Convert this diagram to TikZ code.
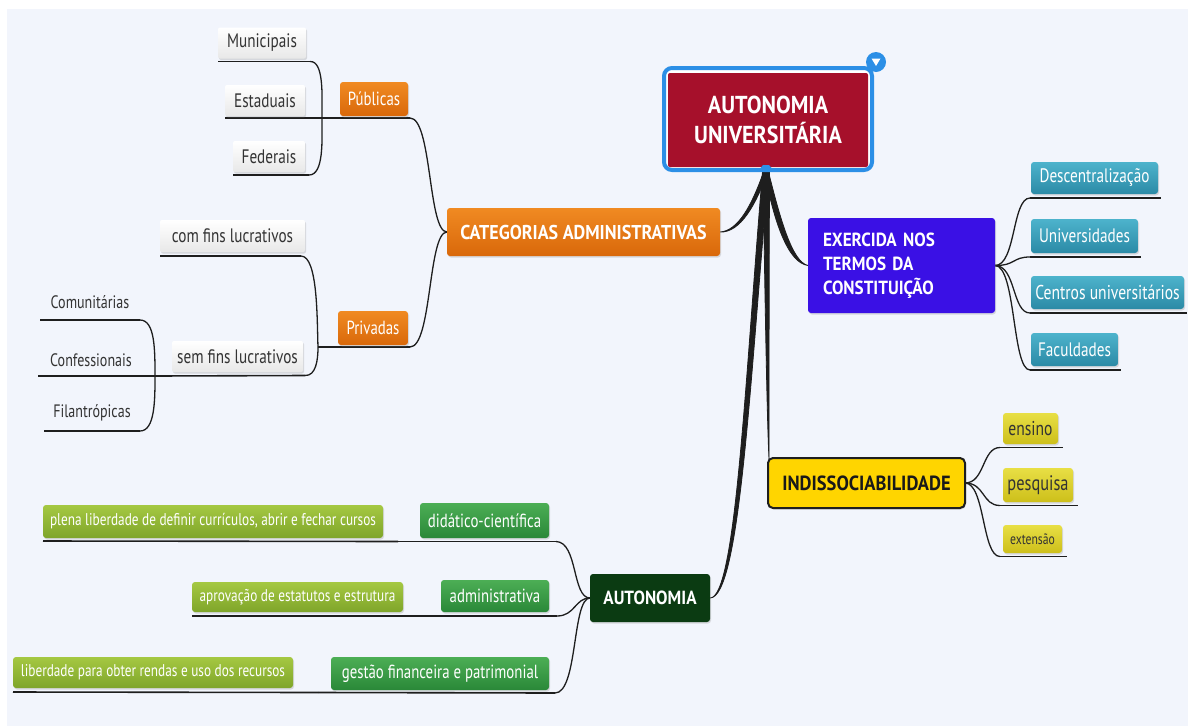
\documentclass[tikz,border=0pt]{standalone}
\usepackage{fontspec}
\setmainfont{PT Sans}[FakeStretch=0.78, BoldFeatures={FakeStretch=0.9}]
\usetikzlibrary{shadows}
\pgfdeclarelayer{bg}
\pgfdeclarelayer{lines}
\pgfsetlayers{bg,lines,main}
\definecolor{bgc}{HTML}{F2F5FC}
\definecolor{lnc}{HTML}{1E1E1E}
\definecolor{rootred}{HTML}{A6102B}
\definecolor{rootblue}{HTML}{2C8FE6}
\definecolor{orT}{HTML}{F08A22}
\definecolor{orB}{HTML}{D9680A}
\definecolor{teT}{HTML}{4DB3CC}
\definecolor{teB}{HTML}{2B8AA6}
\definecolor{yeT}{HTML}{E8DF45}
\definecolor{yeB}{HTML}{CDBF1A}
\definecolor{grT}{HTML}{4CAE55}
\definecolor{grB}{HTML}{2A8838}
\definecolor{olT}{HTML}{A5C842}
\definecolor{olB}{HTML}{7FA52A}
\definecolor{dkgreen}{HTML}{0B3B12}
\definecolor{violet}{HTML}{3A10E5}
\definecolor{gold}{HTML}{FFD500}
\definecolor{txt}{HTML}{333333}
\tikzset{
  nd/.style={inner sep=0pt, outer sep=0pt, anchor=center, align=center},
  sz/.style 2 args={minimum width=#1pt, minimum height=#2pt},
  shad/.style={drop shadow={shadow xshift=1pt, shadow yshift=-1.5pt, opacity=0.25}},
  greybox/.style={nd, shad, rounded corners=2pt, top color=white, bottom color=black!9, text=txt, font=\fontsize{19.5}{22}\selectfont},
  plainlbl/.style={nd, text=txt, font=\fontsize{18}{22}\selectfont},
  orbox/.style={nd, shad, rounded corners=3pt, top color=orT, bottom color=orB, text=white, font=\fontsize{19}{22}\selectfont},
  tebox/.style={nd, shad, rounded corners=3pt, top color=teT, bottom color=teB, text=white, font=\fontsize{19.5}{22}\selectfont},
  yebox/.style={nd, shad, rounded corners=3pt, top color=yeT, bottom color=yeB, text=txt, font=\fontsize{20}{22}\selectfont},
  grbox/.style={nd, shad, rounded corners=3pt, top color=grT, bottom color=grB, text=white, font=\fontsize{19}{22}\selectfont},
  olbox/.style={nd, shad, rounded corners=3pt, top color=olT, bottom color=olB, text=white, font=\fontsize{17}{20}\selectfont},
  ul/.style={draw=lnc, line width=1.6pt},
  cn/.style={draw=lnc, line width=1.3pt},
  trunk/.style={fill=lnc, draw=lnc, line width=0.8pt, line join=round},
}
\begin{document}
\begin{tikzpicture}[x=1pt,y=-1pt]
\begin{pgfonlayer}{bg}
\fill[white] (0,0) rectangle (1188,726);
\fill[bgc] (7,9) rectangle (1188,726);
\end{pgfonlayer}

% root frame and node
\draw[rootblue, fill=white, line width=4pt, rounded corners=8pt] (664,68) rectangle (872,170);
\node[nd, sz={200}{94}, fill=rootred, rounded corners=2pt, text=white,
      font=\bfseries\fontsize{24.5}{30}\selectfont] (root) at (768,120) {AUTONOMIA\\UNIVERSITÁRIA};
\fill[rootblue] (876,62) circle (10);
\fill[white] (871.5,58.5) -- (880.5,58.5) -- (876,66) -- cycle;
\fill[rootblue] (758,171) -- (763,165) -- (769,165) -- (774,171) -- cycle;
\coordinate (rb) at (766,172);

% categorias
\node[orbox, sz={273}{48}, font=\bfseries\fontsize{20}{22}\selectfont] (cat) at (583.5,232) {CATEGORIAS ADMINISTRATIVAS};
\node[orbox, sz={68}{34}] (pub) at (374,99) {Públicas};
\node[orbox, sz={70}{34}] (priv) at (373,328) {Privadas};
\node[greybox, sz={88}{31}] (mun) at (262,43) {Municipais};
\node[greybox, sz={80}{31}] (est) at (265,100.5) {Estaduais};
\node[greybox, sz={72}{31}] (fed) at (269,156.5) {Federais};
\node[greybox, sz={145}{32}] (com) at (232.5,236) {com fins lucrativos};
\node[greybox, sz={131}{31}] (sem) at (237.5,356.5) {sem fins lucrativos};
\node[plainlbl, sz={100}{32}] (cmu) at (90,302) {Comunitárias};
\node[plainlbl, sz={106}{32}] (cnf) at (91,360) {Confessionais};
\node[plainlbl, sz={96}{32}] (fil) at (92,413) {Filantrópicas};

% exercida
\node[nd, shad, sz={187}{95}, fill=violet, rounded corners=3pt, text=white, align=left,
      text width=157pt, inner xsep=15pt, font=\bfseries\fontsize{19}{24}\selectfont] (exe) at (901.5,265.5)
      {EXERCIDA NOS\\TERMOS DA\\CONSTITUIÇÃO};
\node[tebox, sz={127}{32}] (des) at (1094.5,178) {Descentralização};
\node[tebox, sz={107}{34}] (uni) at (1084.5,236) {Universidades};
\node[tebox, sz={153}{33}, font=\fontsize{20}{22}\selectfont] (cen) at (1107.5,292.5) {Centros universitários};
\node[tebox, sz={87}{33}] (fac) at (1074.5,349.5) {Faculdades};

% indissociabilidade
\node[nd, shad, sz={197}{50}, fill=gold, draw=lnc, line width=2pt, rounded corners=5pt, text=black!90,
      font=\bfseries\fontsize{20.5}{24}\selectfont] (ind) at (866.5,483) {INDISSOCIABILIDADE};
\node[yebox, sz={55}{31}] (ens) at (1030.5,428.5) {ensino};
\node[yebox, sz={70}{34}, font=\fontsize{21}{22}\selectfont] (pes) at (1038,485) {pesquisa};
\node[yebox, sz={59}{28}, font=\fontsize{15}{18}\selectfont] (ext) at (1032.5,539) {extensão};

% autonomia
\node[nd, shad, sz={120}{48}, fill=dkgreen, rounded corners=3pt, text=white,
      font=\bfseries\fontsize{19}{22}\selectfont] (aut) at (650,598) {AUTONOMIA};
\node[grbox, sz={129}{35}] (did) at (484.5,520.5) {didático-científica};
\node[grbox, sz={108}{32}] (adm) at (495,596) {administrativa};
\node[grbox, sz={218}{33}] (ges) at (440,673.5) {gestão financeira e patrimonial};
\node[olbox, sz={340}{33}] (ple) at (213,521.5) {plena liberdade de definir currículos, abrir e fechar cursos};
\node[olbox, sz={211}{30}] (apr) at (297.5,597) {aprovação de estatutos e estrutura};
\node[olbox, sz={280}{31}] (lib) at (153,672.5) {liberdade para obter rendas e uso dos recursos};

\coordinate (pubj) at (322,118);
\coordinate (privj) at (318,347);
\coordinate (semj) at (155,376);
\coordinate (plej) at (398,541.5);
\coordinate (aprj) at (410,616);
\coordinate (libj) at (318,692.5);

\begin{pgfonlayer}{lines}
% trunks
\filldraw[trunk] ([shift={(-2.5,0)}]rb) .. controls (752,205) and (738,231) .. (cat.east)
   .. controls (740,233) and (756,205) .. ([shift={(1.5,0)}]rb) -- cycle;
\filldraw[trunk] ([shift={(-1.5,0)}]rb) .. controls (774,222) and (788,263) .. (exe.west)
   .. controls (792,262) and (780,218) .. ([shift={(2.5,0)}]rb) -- cycle;
\filldraw[trunk] ([shift={(-3,0)}]rb) .. controls (765,300) and (767,420) .. ([shift={(1,1)}]ind.north west)
   .. controls (769,420) and (769,300) .. ([shift={(3.5,0)}]rb) -- cycle;
\filldraw[trunk] ([shift={(-3.5,0)}]rb) .. controls (745,380) and (736,598) .. (aut.east)
   .. controls (740,598) and (750,380) .. ([shift={(2.5,0)}]rb) -- cycle;

% publicas
\draw[ul] ([shift={(0,3)}]mun.south west) -- ([shift={(4,3)}]mun.south east) coordinate (munr);
\draw[cn] (munr) .. controls (324,61) and (322,95) .. (pubj);
\draw[ul] ([shift={(0,2)}]est.south west) -- (pubj);
\draw[ul] ([shift={(0,3)}]fed.south west) -- ([shift={(4,3)}]fed.south east) coordinate (fedr);
\draw[cn] (fedr) .. controls (324,175) and (322,140) .. (pubj);
\draw[ul] (pubj) -- ([shift={(2,2)}]pub.south east) coordinate (pubr);
\draw[cn] (pubr) .. controls (432,118) and (428,232) .. (cat.west);

% privadas
\draw[ul] ([shift={(0,4)}]com.south west) -- ([shift={(-4,4)}]com.south east) coordinate (comr);
\draw[cn] (comr) .. controls (318,256) and (317,320) .. (privj);
\draw[ul] (semj) -- ([shift={(2,3.5)}]sem.south east) coordinate (semr);
\draw[cn] (semr) .. controls (316,376) and (318,360) .. (privj);
\draw[ul] (privj) -- ([shift={(2,2)}]priv.south east) coordinate (privr);
\draw[cn] (privr) .. controls (432,347) and (428,232) .. (cat.west);
\draw[ul] ([shift={(0,2)}]cmu.south west) -- ([shift={(0,2)}]cmu.south east) coordinate (cmur);
\draw[cn] (cmur) .. controls (155,320) and (155,350) .. (semj);
\draw[ul] ([shift={(0,0)}]cnf.south west) -- (semj);
\draw[ul] ([shift={(0,2)}]fil.south west) -- ([shift={(0,2)}]fil.south east) coordinate (filr);
\draw[cn] (filr) .. controls (155,431) and (155,400) .. (semj);

% exercida children
\foreach \n in {des,uni,cen,fac}{
  \draw[ul] ([shift={(-1,4)}]\n.south west) coordinate (\n l) -- ([shift={(3,4)}]\n.south east);
  \draw[cn] (exe.east) .. controls (1016,265.5) and (1012,0|-\n l) .. (\n l);
}
% indissociabilidade children
\foreach \n in {ens,pes,ext}{
  \draw[ul] ([shift={(-3,3.5)}]\n.south west) coordinate (\n l) -- ([shift={(5,3.5)}]\n.south east);
  \draw[cn] (ind.east) .. controls (985,483) and (982,0|-\n l) .. (\n l);
}
% autonomia children
\draw[ul] ([shift={(0,3)}]ple.south west) -- (plej);
\draw[ul] (plej) -- ([shift={(7,3.5)}]did.south east) coordinate (didr);
\draw[cn] (didr) .. controls (578,542) and (572,598) .. (aut.west);
\draw[ul] ([shift={(0,4)}]apr.south west) -- (aprj);
\draw[ul] (aprj) -- ([shift={(8,4)}]adm.south east) coordinate (admr);
\draw[cn] (admr) .. controls (575,616) and (575,598) .. (aut.west);
\draw[ul] ([shift={(0,4)}]lib.south west) -- (libj);
\draw[ul] (libj) -- ([shift={(6,3)}]ges.south east) coordinate (gesr);
\draw[cn] (gesr) .. controls (578,693) and (572,598) .. (aut.west);
\end{pgfonlayer}
\end{tikzpicture}
\end{document}
